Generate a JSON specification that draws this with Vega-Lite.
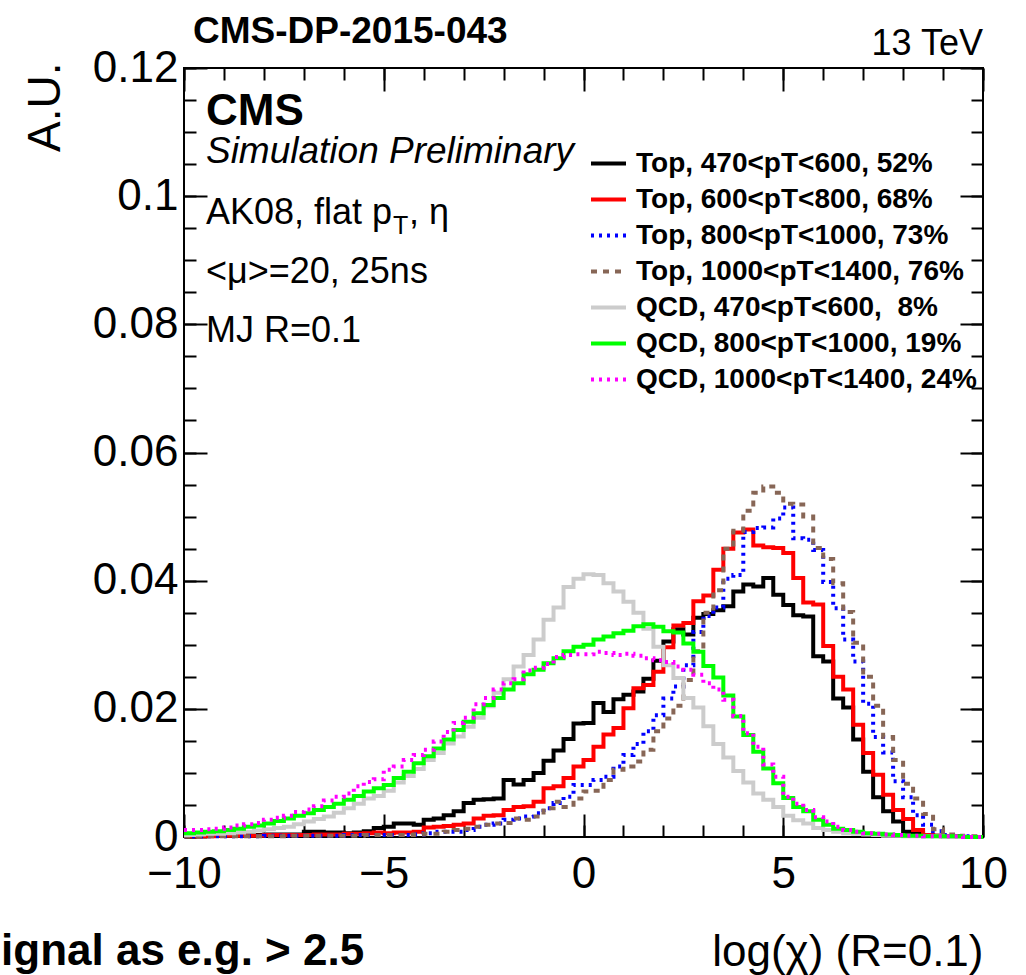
{
  "$schema": "https://vega.github.io/schema/vega-lite/v6.json",
  "width": 799,
  "height": 769,
  "autosize": {"type": "none"},
  "padding": {"left": 184, "top": 68, "right": 43, "bottom": 138},
  "background": "white",
  "config": {
    "view": {"stroke": "black", "strokeWidth": 2},
    "axis": {"domain": false, "grid": false, "tickColor": "black", "tickWidth": 2, "labelColor": "black", "titleColor": "black", "labelFont": "Liberation Sans", "titleFont": "Liberation Sans", "titleFontWeight": "normal", "labelFlush": false, "labelOverlap": false},
    "text": {"font": "Liberation Sans", "color": "black"}
  },
  "datasets": {
    "hist": [
      {"x": -10, "t470": 0.0002, "t600": 0.0001, "t800": 0.0001, "t1000": 0.0001, "q470": 0.0003, "q800": 0.0006, "q1000": 0.0011},
      {"x": -9.75, "t470": 0.0002, "t600": 0.0001, "t800": 0.0001, "t1000": 0.0001, "q470": 0.0004, "q800": 0.0007, "q1000": 0.0011},
      {"x": -9.5, "t470": 0.0002, "t600": 0.0001, "t800": 0.0001, "t1000": 0.0001, "q470": 0.0005, "q800": 0.0008, "q1000": 0.0012},
      {"x": -9.25, "t470": 0.0002, "t600": 0.0002, "t800": 0.0001, "t1000": 0.0001, "q470": 0.0005, "q800": 0.0009, "q1000": 0.0013},
      {"x": -9, "t470": 0.0003, "t600": 0.0002, "t800": 0.0001, "t1000": 0.0001, "q470": 0.0006, "q800": 0.0011, "q1000": 0.0015},
      {"x": -8.75, "t470": 0.0003, "t600": 0.0002, "t800": 0.0001, "t1000": 0.0001, "q470": 0.0007, "q800": 0.0013, "q1000": 0.0018},
      {"x": -8.5, "t470": 0.0003, "t600": 0.0002, "t800": 0.0001, "t1000": 0.0001, "q470": 0.0008, "q800": 0.0016, "q1000": 0.0020},
      {"x": -8.25, "t470": 0.0003, "t600": 0.0002, "t800": 0.0001, "t1000": 0.0001, "q470": 0.0010, "q800": 0.0018, "q1000": 0.0022},
      {"x": -8, "t470": 0.0004, "t600": 0.0003, "t800": 0.0002, "t1000": 0.0001, "q470": 0.0012, "q800": 0.0021, "q1000": 0.0027},
      {"x": -7.75, "t470": 0.0004, "t600": 0.0003, "t800": 0.0002, "t1000": 0.0001, "q470": 0.0014, "q800": 0.0025, "q1000": 0.0030},
      {"x": -7.5, "t470": 0.0004, "t600": 0.0003, "t800": 0.0002, "t1000": 0.0002, "q470": 0.0016, "q800": 0.0029, "q1000": 0.0033},
      {"x": -7.25, "t470": 0.0004, "t600": 0.0003, "t800": 0.0002, "t1000": 0.0002, "q470": 0.0020, "q800": 0.0033, "q1000": 0.0039},
      {"x": -7, "t470": 0.0008, "t600": 0.0003, "t800": 0.0002, "t1000": 0.0002, "q470": 0.0024, "q800": 0.0037, "q1000": 0.0043},
      {"x": -6.75, "t470": 0.0008, "t600": 0.0004, "t800": 0.0002, "t1000": 0.0002, "q470": 0.0028, "q800": 0.0042, "q1000": 0.0048},
      {"x": -6.5, "t470": 0.0007, "t600": 0.0004, "t800": 0.0002, "t1000": 0.0002, "q470": 0.0032, "q800": 0.0047, "q1000": 0.0057},
      {"x": -6.25, "t470": 0.0007, "t600": 0.0004, "t800": 0.0002, "t1000": 0.0002, "q470": 0.0038, "q800": 0.0052, "q1000": 0.0063},
      {"x": -6, "t470": 0.0006, "t600": 0.0005, "t800": 0.0003, "t1000": 0.0002, "q470": 0.0045, "q800": 0.0058, "q1000": 0.0068},
      {"x": -5.75, "t470": 0.0007, "t600": 0.0005, "t800": 0.0003, "t1000": 0.0002, "q470": 0.0052, "q800": 0.0064, "q1000": 0.0079},
      {"x": -5.5, "t470": 0.0009, "t600": 0.0006, "t800": 0.0003, "t1000": 0.0003, "q470": 0.0060, "q800": 0.0071, "q1000": 0.0086},
      {"x": -5.25, "t470": 0.0014, "t600": 0.0007, "t800": 0.0003, "t1000": 0.0003, "q470": 0.0064, "q800": 0.0076, "q1000": 0.0090},
      {"x": -5, "t470": 0.0016, "t600": 0.0006, "t800": 0.0003, "t1000": 0.0003, "q470": 0.0072, "q800": 0.0081, "q1000": 0.0105},
      {"x": -4.75, "t470": 0.0021, "t600": 0.0007, "t800": 0.0003, "t1000": 0.0003, "q470": 0.0085, "q800": 0.0092, "q1000": 0.0110},
      {"x": -4.5, "t470": 0.0021, "t600": 0.0007, "t800": 0.0003, "t1000": 0.0003, "q470": 0.0095, "q800": 0.0102, "q1000": 0.0120},
      {"x": -4.25, "t470": 0.0019, "t600": 0.0008, "t800": 0.0004, "t1000": 0.0004, "q470": 0.0106, "q800": 0.0115, "q1000": 0.0128},
      {"x": -4, "t470": 0.0027, "t600": 0.0015, "t800": 0.0006, "t1000": 0.0005, "q470": 0.0120, "q800": 0.0126, "q1000": 0.0136},
      {"x": -3.75, "t470": 0.0029, "t600": 0.0016, "t800": 0.0008, "t1000": 0.0005, "q470": 0.0131, "q800": 0.0138, "q1000": 0.0149},
      {"x": -3.5, "t470": 0.0034, "t600": 0.0017, "t800": 0.0008, "t1000": 0.0008, "q470": 0.0146, "q800": 0.0152, "q1000": 0.0164},
      {"x": -3.25, "t470": 0.0040, "t600": 0.0019, "t800": 0.0008, "t1000": 0.0011, "q470": 0.0157, "q800": 0.0167, "q1000": 0.0178},
      {"x": -3, "t470": 0.0053, "t600": 0.0021, "t800": 0.0011, "t1000": 0.0013, "q470": 0.0172, "q800": 0.0180, "q1000": 0.0186},
      {"x": -2.75, "t470": 0.0058, "t600": 0.0029, "t800": 0.0016, "t1000": 0.0016, "q470": 0.0186, "q800": 0.0193, "q1000": 0.0207},
      {"x": -2.5, "t470": 0.0059, "t600": 0.0033, "t800": 0.0019, "t1000": 0.0019, "q470": 0.0204, "q800": 0.0206, "q1000": 0.0217},
      {"x": -2.25, "t470": 0.0060, "t600": 0.0034, "t800": 0.0021, "t1000": 0.0021, "q470": 0.0225, "q800": 0.0217, "q1000": 0.0230},
      {"x": -2, "t470": 0.0089, "t600": 0.0042, "t800": 0.0027, "t1000": 0.0022, "q470": 0.0246, "q800": 0.0230, "q1000": 0.0240},
      {"x": -1.75, "t470": 0.0082, "t600": 0.0047, "t800": 0.0029, "t1000": 0.0029, "q470": 0.0266, "q800": 0.0240, "q1000": 0.0246},
      {"x": -1.5, "t470": 0.0089, "t600": 0.0048, "t800": 0.0032, "t1000": 0.0027, "q470": 0.0284, "q800": 0.0254, "q1000": 0.0260},
      {"x": -1.25, "t470": 0.0100, "t600": 0.0055, "t800": 0.0037, "t1000": 0.0032, "q470": 0.0308, "q800": 0.0261, "q1000": 0.0264},
      {"x": -1, "t470": 0.0119, "t600": 0.0076, "t800": 0.0045, "t1000": 0.0045, "q470": 0.0339, "q800": 0.0271, "q1000": 0.0270},
      {"x": -0.75, "t470": 0.0135, "t600": 0.0079, "t800": 0.0053, "t1000": 0.0055, "q470": 0.0358, "q800": 0.0279, "q1000": 0.0281},
      {"x": -0.5, "t470": 0.0153, "t600": 0.0092, "t800": 0.0063, "t1000": 0.0047, "q470": 0.0390, "q800": 0.0290, "q1000": 0.0284},
      {"x": -0.25, "t470": 0.0177, "t600": 0.0110, "t800": 0.0081, "t1000": 0.0060, "q470": 0.0403, "q800": 0.0297, "q1000": 0.0285},
      {"x": 0, "t470": 0.0178, "t600": 0.0120, "t800": 0.0081, "t1000": 0.0071, "q470": 0.0410, "q800": 0.0300, "q1000": 0.0285},
      {"x": 0.25, "t470": 0.0209, "t600": 0.0141, "t800": 0.0089, "t1000": 0.0072, "q470": 0.0409, "q800": 0.0308, "q1000": 0.0289},
      {"x": 0.5, "t470": 0.0195, "t600": 0.0160, "t800": 0.0094, "t1000": 0.0089, "q470": 0.0396, "q800": 0.0313, "q1000": 0.0287},
      {"x": 0.75, "t470": 0.0215, "t600": 0.0170, "t800": 0.0110, "t1000": 0.0105, "q470": 0.0383, "q800": 0.0318, "q1000": 0.0284},
      {"x": 1, "t470": 0.0222, "t600": 0.0201, "t800": 0.0128, "t1000": 0.0110, "q470": 0.0367, "q800": 0.0322, "q1000": 0.0286},
      {"x": 1.25, "t470": 0.0227, "t600": 0.0232, "t800": 0.0145, "t1000": 0.0118, "q470": 0.0350, "q800": 0.0329, "q1000": 0.0283},
      {"x": 1.5, "t470": 0.0247, "t600": 0.0237, "t800": 0.0165, "t1000": 0.0136, "q470": 0.0325, "q800": 0.0332, "q1000": 0.0279},
      {"x": 1.75, "t470": 0.0275, "t600": 0.0258, "t800": 0.0190, "t1000": 0.0165, "q470": 0.0297, "q800": 0.0328, "q1000": 0.0276},
      {"x": 2, "t470": 0.0305, "t600": 0.0296, "t800": 0.0216, "t1000": 0.0185, "q470": 0.0268, "q800": 0.0321, "q1000": 0.0273},
      {"x": 2.25, "t470": 0.0324, "t600": 0.0330, "t800": 0.0235, "t1000": 0.0205, "q470": 0.0248, "q800": 0.0319, "q1000": 0.0266},
      {"x": 2.5, "t470": 0.0316, "t600": 0.0334, "t800": 0.0268, "t1000": 0.0245, "q470": 0.0217, "q800": 0.0302, "q1000": 0.0261},
      {"x": 2.75, "t470": 0.0342, "t600": 0.0368, "t800": 0.0320, "t1000": 0.0290, "q470": 0.0202, "q800": 0.0289, "q1000": 0.0253},
      {"x": 3, "t470": 0.0348, "t600": 0.0377, "t800": 0.0345, "t1000": 0.0350, "q470": 0.0173, "q800": 0.0267, "q1000": 0.0240},
      {"x": 3.25, "t470": 0.0354, "t600": 0.0417, "t800": 0.0358, "t1000": 0.0385, "q470": 0.0145, "q800": 0.0249, "q1000": 0.0230},
      {"x": 3.5, "t470": 0.0360, "t600": 0.0450, "t800": 0.0403, "t1000": 0.0450, "q470": 0.0124, "q800": 0.0221, "q1000": 0.0214},
      {"x": 3.75, "t470": 0.0383, "t600": 0.0475, "t800": 0.0409, "t1000": 0.0478, "q470": 0.0103, "q800": 0.0188, "q1000": 0.0189},
      {"x": 4, "t470": 0.0394, "t600": 0.0480, "t800": 0.0476, "t1000": 0.0509, "q470": 0.0085, "q800": 0.0159, "q1000": 0.0162},
      {"x": 4.25, "t470": 0.0391, "t600": 0.0455, "t800": 0.0482, "t1000": 0.0537, "q470": 0.0068, "q800": 0.0133, "q1000": 0.0141},
      {"x": 4.5, "t470": 0.0404, "t600": 0.0452, "t800": 0.0483, "t1000": 0.0547, "q470": 0.0058, "q800": 0.0107, "q1000": 0.0113},
      {"x": 4.75, "t470": 0.0378, "t600": 0.0451, "t800": 0.0497, "t1000": 0.0537, "q470": 0.0047, "q800": 0.0084, "q1000": 0.0094},
      {"x": 5, "t470": 0.0362, "t600": 0.0443, "t800": 0.0514, "t1000": 0.0520, "q470": 0.0033, "q800": 0.0061, "q1000": 0.0063},
      {"x": 5.25, "t470": 0.0346, "t600": 0.0404, "t800": 0.0466, "t1000": 0.0519, "q470": 0.0026, "q800": 0.0047, "q1000": 0.0052},
      {"x": 5.5, "t470": 0.0344, "t600": 0.0366, "t800": 0.0464, "t1000": 0.0500, "q470": 0.0021, "q800": 0.0040, "q1000": 0.0042},
      {"x": 5.75, "t470": 0.0282, "t600": 0.0363, "t800": 0.0448, "t1000": 0.0451, "q470": 0.0014, "q800": 0.0027, "q1000": 0.0031},
      {"x": 6, "t470": 0.0274, "t600": 0.0298, "t800": 0.0398, "t1000": 0.0434, "q470": 0.0011, "q800": 0.0019, "q1000": 0.0024},
      {"x": 6.25, "t470": 0.0216, "t600": 0.0250, "t800": 0.0357, "t1000": 0.0396, "q470": 0.0008, "q800": 0.0013, "q1000": 0.0016},
      {"x": 6.5, "t470": 0.0202, "t600": 0.0230, "t800": 0.0308, "t1000": 0.0351, "q470": 0.0006, "q800": 0.0011, "q1000": 0.0011},
      {"x": 6.75, "t470": 0.0152, "t600": 0.0175, "t800": 0.0274, "t1000": 0.0303, "q470": 0.0005, "q800": 0.0008, "q1000": 0.0008},
      {"x": 7, "t470": 0.0102, "t600": 0.0131, "t800": 0.0208, "t1000": 0.0250, "q470": 0.0004, "q800": 0.0006, "q1000": 0.0006},
      {"x": 7.25, "t470": 0.0062, "t600": 0.0097, "t800": 0.0156, "t1000": 0.0205, "q470": 0.0003, "q800": 0.0005, "q1000": 0.0005},
      {"x": 7.5, "t470": 0.0040, "t600": 0.0066, "t800": 0.0132, "t1000": 0.0156, "q470": 0.0002, "q800": 0.0004, "q1000": 0.0004},
      {"x": 7.75, "t470": 0.0024, "t600": 0.0042, "t800": 0.0087, "t1000": 0.0120, "q470": 0.0002, "q800": 0.0003, "q1000": 0.0003},
      {"x": 8, "t470": 0.0008, "t600": 0.0028, "t800": 0.0062, "t1000": 0.0083, "q470": 0.0001, "q800": 0.0002, "q1000": 0.0002},
      {"x": 8.25, "t470": 0.0006, "t600": 0.0011, "t800": 0.0034, "t1000": 0.0060, "q470": 0.0001, "q800": 0.0002, "q1000": 0.0002},
      {"x": 8.5, "t470": 0.0003, "t600": 0.0003, "t800": 0.0019, "t1000": 0.0036, "q470": 0.0001, "q800": 0.0001, "q1000": 0.0001},
      {"x": 8.75, "t470": 0.0002, "t600": 0.0002, "t800": 0.0009, "t1000": 0.0012, "q470": 0.0001, "q800": 0.0001, "q1000": 0.0001},
      {"x": 9, "t470": 0.0001, "t600": 0.0001, "t800": 0.0003, "t1000": 0.0004, "q470": 0.0, "q800": 0.0001, "q1000": 0.0001},
      {"x": 9.25, "t470": 0.0001, "t600": 0.0001, "t800": 0.0001, "t1000": 0.0002, "q470": 0.0, "q800": 0.0001, "q1000": 0.0001},
      {"x": 9.5, "t470": 0.0, "t600": 0.0, "t800": 0.0001, "t1000": 0.0001, "q470": 0.0, "q800": 0.0, "q1000": 0.0},
      {"x": 9.75, "t470": 0.0, "t600": 0.0, "t800": 0.0, "t1000": 0.0001, "q470": 0.0, "q800": 0.0, "q1000": 0.0},
      {"x": 10, "t470": 0.0, "t600": 0.0, "t800": 0.0, "t1000": 0.0001, "q470": 0.0, "q800": 0.0, "q1000": 0.0}
    ]
  },
  "resolve": {"axis": {"x": "independent", "y": "independent"}},
  "layer": [
    {
      "data": {"name": "hist"},
      "transform": [{"fold": ["t470", "t600", "t800", "t1000", "q470", "q800", "q1000"], "as": ["series", "value"]}],
      "mark": {"type": "line", "interpolate": "step-after", "strokeWidth": 4},
      "encoding": {
        "x": {"field": "x", "type": "quantitative", "scale": {"domain": [-10, 10], "nice": false, "zero": false},
          "axis": {"orient": "bottom", "values": [-10, -5, 0, 5, 10], "tickSize": -23, "labelPadding": 38, "labelFontSize": 44,
            "title": "log(χ) (R=0.1)", "titleFontSize": 44, "titleAlign": "right", "titleAnchor": "end", "titleX": 799, "titleY": 128, "titleBaseline": "alphabetic"}},
        "y": {"field": "value", "type": "quantitative", "scale": {"domain": [0, 0.12], "nice": false},
          "axis": {"orient": "left", "values": [0, 0.02, 0.04, 0.06, 0.08, 0.1, 0.12], "format": ".2~f", "tickSize": -23, "labelPadding": 29, "labelFontSize": 44,
            "title": "A.U.", "titleFontSize": 46, "titleAngle": -90, "titleAlign": "right", "titleBaseline": "middle", "titleX": -139, "titleY": -6}},
        "color": {"field": "series", "type": "nominal",
          "scale": {"domain": ["t470", "t600", "t800", "t1000", "q470", "q800", "q1000"], "range": ["#000000", "#ff0000", "#0000ff", "#876656", "#cccccc", "#00ff00", "#ff00ff"]},
          "legend": {"title": null, "orient": "none", "legendX": 405, "legendY": 76, "symbolType": "stroke", "symbolSize": 1225, "symbolStrokeWidth": 4,
            "labelFont": "Liberation Sans", "labelFontSize": 28, "labelFontWeight": "bold", "labelColor": "black", "labelLimit": 600, "labelOffset": 8, "rowPadding": 2, "padding": 0,
            "labelExpr": "datum.value == 't470' ? 'Top, 470<pT<600, 52%' : datum.value == 't600' ? 'Top, 600<pT<800, 68%' : datum.value == 't800' ? 'Top, 800<pT<1000, 73%' : datum.value == 't1000' ? 'Top, 1000<pT<1400, 76%' : datum.value == 'q470' ? 'QCD, 470<pT<600, \u00a08%' : datum.value == 'q800' ? 'QCD, 800<pT<1000, 19%' : 'QCD, 1000<pT<1400, 24%'"}},
        "strokeDash": {"field": "series", "type": "nominal",
          "scale": {"domain": ["t470", "t600", "t800", "t1000", "q470", "q800", "q1000"], "range": [[1, 0], [1, 0], [3, 5], [6, 6], [1, 0], [1, 0], [3, 5]]},
          "legend": {"title": null, "orient": "none", "legendX": 405, "legendY": 76, "symbolType": "stroke", "symbolSize": 1225, "symbolStrokeWidth": 4,
            "labelFont": "Liberation Sans", "labelFontSize": 28, "labelFontWeight": "bold", "labelColor": "black", "labelLimit": 600, "labelOffset": 8, "rowPadding": 2, "padding": 0,
            "labelExpr": "datum.value == 't470' ? 'Top, 470<pT<600, 52%' : datum.value == 't600' ? 'Top, 600<pT<800, 68%' : datum.value == 't800' ? 'Top, 800<pT<1000, 73%' : datum.value == 't1000' ? 'Top, 1000<pT<1400, 76%' : datum.value == 'q470' ? 'QCD, 470<pT<600, \u00a08%' : datum.value == 'q800' ? 'QCD, 800<pT<1000, 19%' : 'QCD, 1000<pT<1400, 24%'"}}
      }
    },
    {
      "data": {"values": [{}]},
      "mark": {"type": "point", "opacity": 0},
      "encoding": {
        "x": {"datum": 0, "type": "quantitative", "axis": {"orient": "bottom", "values": [-10, -9, -8, -7, -6, -5, -4, -3, -2, -1, 0, 1, 2, 3, 4, 5, 6, 7, 8, 9, 10], "tickSize": -12, "labels": false, "title": null}},
        "y": {"datum": 0, "type": "quantitative", "axis": {"orient": "left", "values": [0, 0.005, 0.01, 0.015, 0.02, 0.025, 0.03, 0.035, 0.04, 0.045, 0.05, 0.055, 0.06, 0.065, 0.07, 0.075, 0.08, 0.085, 0.09, 0.095, 0.1, 0.105, 0.11, 0.115, 0.12], "tickSize": -12, "labels": false, "title": null}}
      }
    },
    {
      "data": {"values": [{}]},
      "mark": {"type": "point", "opacity": 0},
      "encoding": {
        "x": {"datum": 0, "type": "quantitative", "axis": {"orient": "top", "values": [-10, -5, 0, 5, 10], "tickSize": -23, "labels": false, "title": null}},
        "y": {"datum": 0, "type": "quantitative", "axis": {"orient": "right", "values": [0, 0.02, 0.04, 0.06, 0.08, 0.1, 0.12], "tickSize": -23, "labels": false, "title": null}}
      }
    },
    {
      "data": {"values": [{}]},
      "mark": {"type": "point", "opacity": 0},
      "encoding": {
        "x": {"datum": 0, "type": "quantitative", "axis": {"orient": "top", "values": [-10, -9, -8, -7, -6, -5, -4, -3, -2, -1, 0, 1, 2, 3, 4, 5, 6, 7, 8, 9, 10], "tickSize": -12, "labels": false, "title": null}},
        "y": {"datum": 0, "type": "quantitative", "axis": {"orient": "right", "values": [0, 0.005, 0.01, 0.015, 0.02, 0.025, 0.03, 0.035, 0.04, 0.045, 0.05, 0.055, 0.06, 0.065, 0.07, 0.075, 0.08, 0.085, 0.09, 0.095, 0.1, 0.105, 0.11, 0.115, 0.12], "tickSize": -12, "labels": false, "title": null}}
      }
    },
    {
      "data": {"values": [{}]},
      "mark": {"type": "text", "text": "CMS-DP-2015-043", "align": "left", "baseline": "alphabetic", "fontSize": 37, "fontWeight": "bold"},
      "encoding": {"x": {"datum": -9.775, "type": "quantitative", "axis": null}, "y": {"datum": 0.1239, "type": "quantitative", "axis": null}}
    },
    {
      "data": {"values": [{}]},
      "mark": {"type": "text", "text": "13 TeV", "align": "right", "baseline": "alphabetic", "fontSize": 36},
      "encoding": {"x": {"datum": 10, "type": "quantitative", "axis": null}, "y": {"datum": 0.1220, "type": "quantitative", "axis": null}}
    },
    {
      "data": {"values": [{}]},
      "mark": {"type": "text", "text": "CMS", "align": "left", "baseline": "alphabetic", "fontSize": 44, "fontWeight": "bold"},
      "encoding": {"x": {"datum": -9.45, "type": "quantitative", "axis": null}, "y": {"datum": 0.1111, "type": "quantitative", "axis": null}}
    },
    {
      "data": {"values": [{}]},
      "mark": {"type": "text", "text": "Simulation Preliminary", "align": "left", "baseline": "alphabetic", "fontSize": 37, "fontStyle": "italic"},
      "encoding": {"x": {"datum": -9.45, "type": "quantitative", "axis": null}, "y": {"datum": 0.1052, "type": "quantitative", "axis": null}}
    },
    {
      "data": {"values": [{}]},
      "mark": {"type": "text", "text": "AK08, flat p", "align": "left", "baseline": "alphabetic", "fontSize": 36},
      "encoding": {"x": {"datum": -9.45, "type": "quantitative", "axis": null}, "y": {"datum": 0.0956, "type": "quantitative", "axis": null}}
    },
    {
      "data": {"values": [{}]},
      "mark": {"type": "text", "text": "T", "align": "left", "baseline": "alphabetic", "fontSize": 25, "dx": 187, "dy": 10},
      "encoding": {"x": {"datum": -9.45, "type": "quantitative", "axis": null}, "y": {"datum": 0.0956, "type": "quantitative", "axis": null}}
    },
    {
      "data": {"values": [{}]},
      "mark": {"type": "text", "text": ", η", "align": "left", "baseline": "alphabetic", "fontSize": 36, "dx": 203},
      "encoding": {"x": {"datum": -9.45, "type": "quantitative", "axis": null}, "y": {"datum": 0.0956, "type": "quantitative", "axis": null}}
    },
    {
      "data": {"values": [{}]},
      "mark": {"type": "text", "text": "<μ>=20, 25ns", "align": "left", "baseline": "alphabetic", "fontSize": 36},
      "encoding": {"x": {"datum": -9.45, "type": "quantitative", "axis": null}, "y": {"datum": 0.0864, "type": "quantitative", "axis": null}}
    },
    {
      "data": {"values": [{}]},
      "mark": {"type": "text", "text": "MJ R=0.1", "align": "left", "baseline": "alphabetic", "fontSize": 36},
      "encoding": {"x": {"datum": -9.45, "type": "quantitative", "axis": null}, "y": {"datum": 0.0772, "type": "quantitative", "axis": null}}
    },
    {
      "data": {"values": [{}]},
      "mark": {"type": "text", "text": "ignal as e.g. > 2.5", "align": "left", "baseline": "alphabetic", "fontSize": 44, "fontWeight": "bold"},
      "encoding": {"x": {"datum": -14.58, "type": "quantitative", "axis": null}, "y": {"datum": -0.02, "type": "quantitative", "axis": null}}
    }
  ]
}
